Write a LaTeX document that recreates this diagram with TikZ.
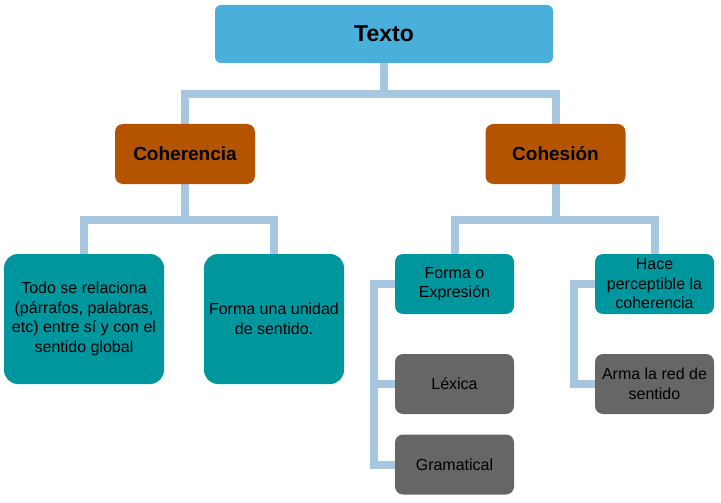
\documentclass[tikz,border=0pt]{standalone}
\usepackage{fontspec}
\setmainfont{Liberation Sans}
\usetikzlibrary{positioning,backgrounds}
\definecolor{cielo}{RGB}{75,175,219}
\definecolor{ladrillo}{RGB}{180,84,0}
\definecolor{turquesa}{RGB}{0,150,158}
\definecolor{gris}{RGB}{102,102,102}
\definecolor{enlace}{RGB}{167,198,223}
\begin{document}
\begin{tikzpicture}[x=1pt,y=-1pt,
        caja/.style={inner sep=0pt,align=center,text=black,
                font=\fontsize{16}{19.5}\selectfont},
        raiz/.style={caja,fill=cielo,rounded corners=6pt,minimum width=338pt,
                minimum height=58pt,font=\fontsize{23}{26}\selectfont\bfseries},
        rama/.style={caja,fill=ladrillo,rounded corners=8pt,minimum width=140pt,
                minimum height=60pt,font=\fontsize{19}{22}\selectfont\bfseries},
        hoja/.style={caja,fill=turquesa,rounded corners=8pt,minimum width=119pt,
                minimum height=60pt},
        gran/.style={caja,fill=turquesa,rounded corners=14pt,minimum height=130pt},
        tipo/.style={caja,fill=gris,rounded corners=8pt,minimum width=119pt,
                minimum height=60pt},
        enlace/.style={draw=enlace,line width=8pt}]
    \useasboundingbox (0,0) rectangle (721,503);
    % cajas
    \node[raiz] (texto) at (384,34) {Texto};
    \node[rama] (coherencia) at (185,154) {Coherencia};
    \node[rama] (cohesion) at (555.5,154) {Cohesión};
    \node[gran,minimum width=160pt] (relaciona) at (84,319)
        {Todo se relaciona\\(párrafos, palabras,\\etc) entre sí y con el\\sentido global};
    \node[gran,minimum width=140pt] (unidad) at (274,319)
        {Forma una unidad\\de sentido.};
    \node[hoja] (forma) at (454.5,284) {Forma o\\Expresión};
    \node[hoja] (hace) at (654.5,284) {Hace\\perceptible la\\coherencia};
    \node[tipo] (lexica) at (454.5,384) {Léxica};
    \node[tipo] (gramatical) at (454.5,464.5) {Gramatical};
    \node[tipo] (arma) at (654.5,384) {Arma la red de\\sentido};
    % enlaces
    \begin{scope}[on background layer]
        \draw[enlace] (texto.south) -- ++(0,31) -| (coherencia.north);
        \draw[enlace] (texto.south) ++(0,31) -| (cohesion.north);
        \draw[enlace] (coherencia.south) -- ++(0,36) -| (relaciona.north);
        \draw[enlace] (coherencia.south) ++(0,36) -| (unidad.north);
        \draw[enlace] (cohesion.south) -- ++(0,36) -| (forma.north);
        \draw[enlace] (cohesion.south) ++(0,36) -| (hace.north);
        \draw[enlace] (forma.west) -- ++(-21,0) |- (gramatical.west);
        \draw[enlace] (forma.west) ++(-21,0) |- (lexica.west);
        \draw[enlace] (hace.west) -- ++(-21,0) |- (arma.west);
    \end{scope}
\end{tikzpicture}
\end{document}
